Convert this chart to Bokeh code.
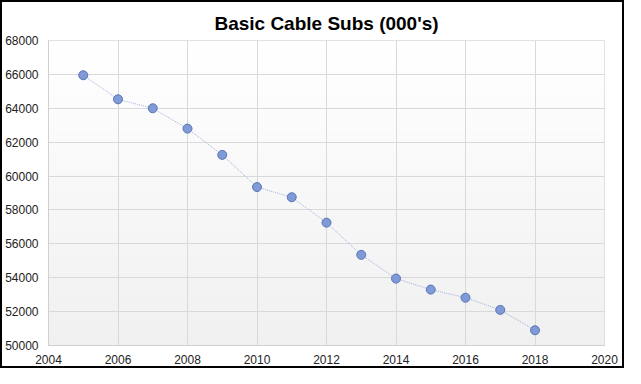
import numpy as np
from bokeh.plotting import figure
from bokeh.layouts import column
from bokeh.models import Range1d, FixedTicker
from bokeh.embed import file_html
from bokeh.resources import INLINE

years = [2005, 2006, 2007, 2008, 2009, 2010, 2011, 2012, 2013, 2014, 2015, 2016, 2017, 2018]
subs = [65950, 64530, 64000, 62800, 61250, 59350, 58750, 57250, 55350, 53950, 53300, 52820, 52100, 50900]
x_ticks = [2004, 2006, 2008, 2010, 2012, 2014, 2016, 2018, 2020]
y_ticks = [50000, 52000, 54000, 56000, 58000, 60000, 62000, 64000, 66000, 68000]
title_text = "Basic Cable Subs (000's)"

x0, x1 = x_ticks[0], x_ticks[-1]
y0, y1 = y_ticks[0], y_ticks[-1]

p = figure(width=620, height=364, output_backend="svg", toolbar_location=None,
           x_range=Range1d(x0, x1), y_range=Range1d(y0, y1),
           min_border_left=43, min_border_right=18, min_border_top=38, min_border_bottom=20)

p.title.text = title_text
p.title.align = "center"
p.title.text_font = "Liberation Sans"
p.title.text_font_size = "19px"
p.title.text_font_style = "bold"
p.title.text_color = "black"
p.title.standoff = 13

# gradient background for plot area
grad = np.zeros((256, 1), dtype=np.uint32)
view = grad.view(dtype=np.uint8).reshape((256, 1, 4))
for i in range(256):
    t = i / 255.0  # 0 bottom -> 1 top
    c = int(round(240 + 15 * t))
    view[i, 0, 0] = c
    view[i, 0, 1] = c
    view[i, 0, 2] = c
    view[i, 0, 3] = 255
p.image_rgba(image=[grad], x=x0, y=y0, dw=x1 - x0, dh=y1 - y0, level="image")

p.line(years, subs, line_color="#9fb0da", line_width=1, line_dash="1 1")
p.scatter(years, subs, size=9, fill_color="#7f9ad6", line_color="#5a74b6", line_width=1)

p.xaxis.ticker = FixedTicker(ticks=x_ticks)
p.yaxis.ticker = FixedTicker(ticks=y_ticks)
for ax in (p.xaxis[0], p.yaxis[0]):
    ax.major_label_text_font = "Liberation Sans"
    ax.major_label_text_font_size = "12px"
    ax.major_label_text_color = "#222222"
    ax.major_tick_line_color = None
    ax.major_tick_out = 0
    ax.major_tick_in = 0
    ax.minor_tick_line_color = None
    ax.axis_line_color = "#d0d0d0"
p.yaxis.major_label_standoff = 10
p.xaxis.major_label_standoff = 9
p.yaxis.formatter.use_scientific = False

p.xgrid.grid_line_color = "#d9d9d9"
p.ygrid.grid_line_color = "#d9d9d9"
p.outline_line_color = "#d9d9d9"
p.background_fill_color = "white"
p.border_fill_color = "white"

layout = column(p, styles={"border": "2px solid black", "background-color": "white"})

open("out.html", "w").write(file_html(layout, INLINE))
